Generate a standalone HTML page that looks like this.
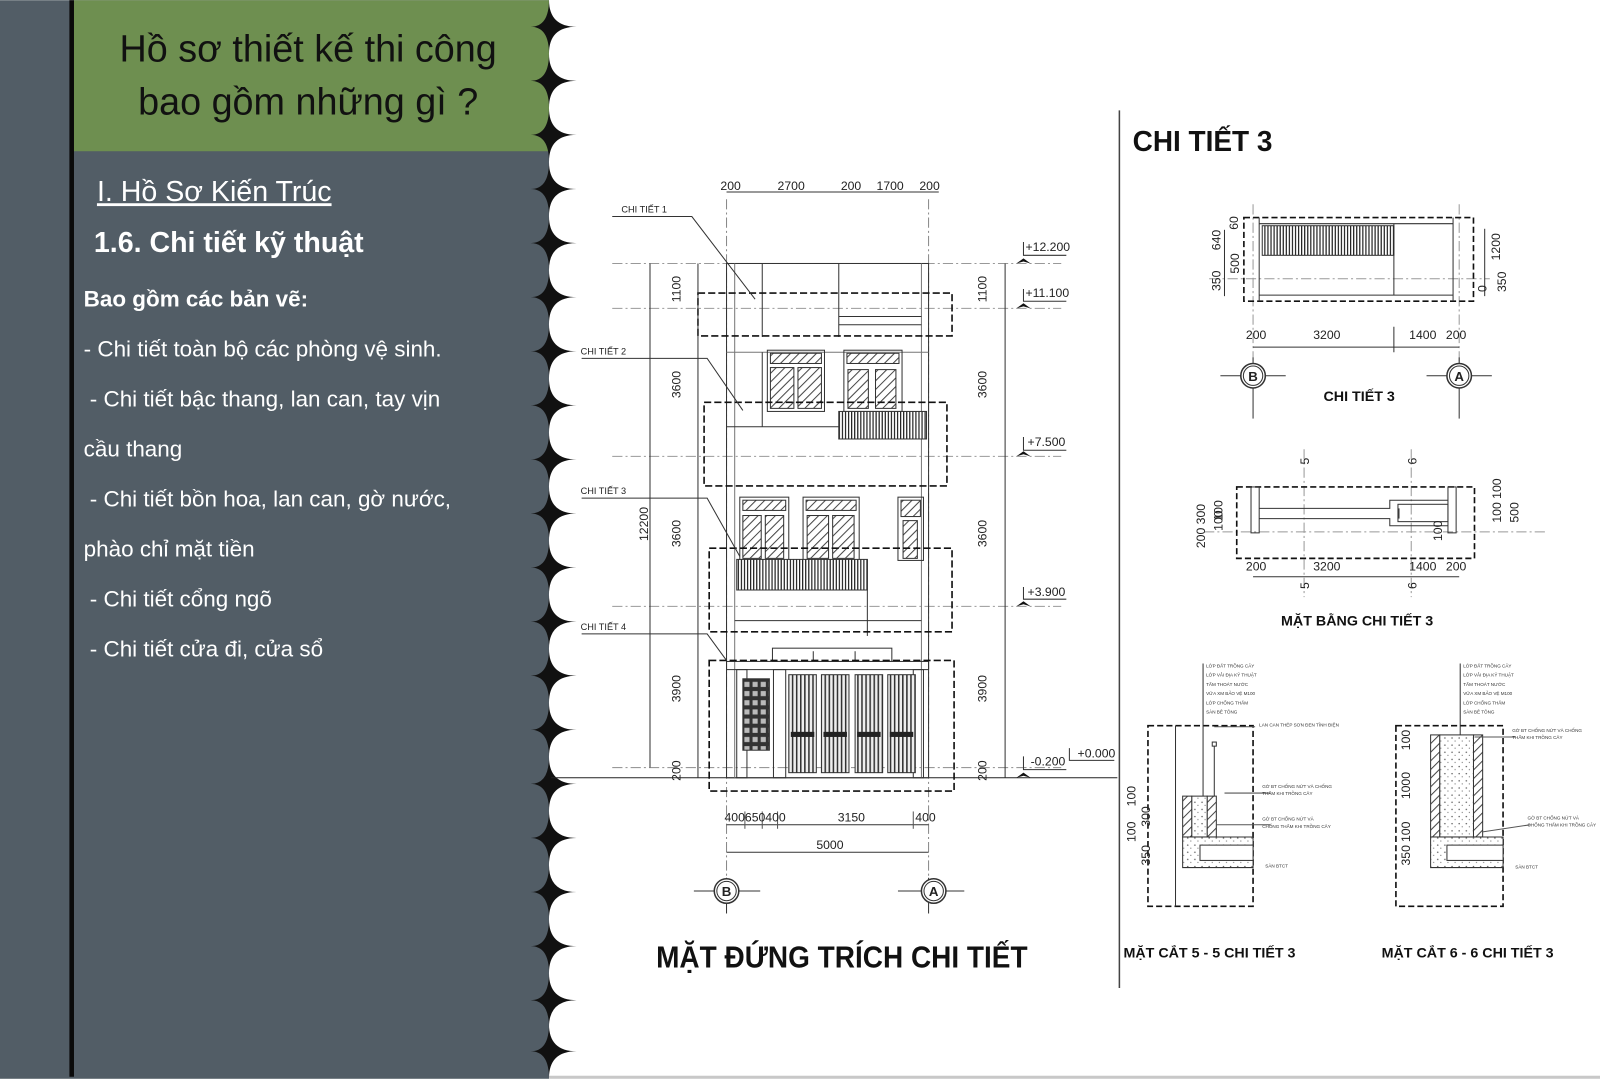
<!DOCTYPE html>
<html><head><meta charset="utf-8"><style>
html,body{margin:0;padding:0;background:#fff;}
svg{display:block;}
.t{font-family:"Liberation Sans",sans-serif;}
.n{font-family:"Liberation Sans Narrow","Liberation Sans",sans-serif;}
</style></head><body>
<svg width="1600" height="1079" viewBox="0 0 1568 1057" xmlns="http://www.w3.org/2000/svg">
<defs>
<pattern id="vl" width="3" height="10" patternUnits="userSpaceOnUse"><rect width="3" height="10" fill="#fff"/><rect width="1.2" height="10" fill="#222"/></pattern>
<pattern id="vl2" width="4" height="10" patternUnits="userSpaceOnUse"><rect width="4" height="10" fill="#eee"/><rect width="1.5" height="10" fill="#333"/></pattern>
<pattern id="hat" width="6" height="6" patternUnits="userSpaceOnUse" patternTransform="rotate(45)"><rect width="6" height="6" fill="#fff"/><rect width="1" height="6" fill="#444"/></pattern>
<pattern id="grl" width="8" height="9" patternUnits="userSpaceOnUse"><rect width="8" height="9" fill="#333"/><rect x="1.5" y="2" width="5" height="5" fill="#bbb"/></pattern>
<pattern id="dots" width="7" height="7" patternUnits="userSpaceOnUse"><rect width="7" height="7" fill="#fff"/><circle cx="2" cy="2" r=".7" fill="#555"/><circle cx="5" cy="5" r=".6" fill="#777"/></pattern>
<path id="star" d="M520,0 Q538,0 538,-26.5 Q538,0 565,0 Q538,0 538,26.5 Q538,0 520,0Z" fill="#111"/>
</defs>

<rect x="0" y="0" width="538" height="1057" fill="#525d66"/>
<rect x="72" y="0" width="466" height="148" fill="#6e8f50"/>
<rect x="68" y="0" width="4.5" height="1055" fill="#0a0a0a"/>
<rect x="538" y="1054" width="1030" height="3" fill="#c8c8c8"/>
<g>
<use href="#star" y="26"/><use href="#star" y="79"/><use href="#star" y="132"/><use href="#star" y="185"/><use href="#star" y="238"/><use href="#star" y="291"/><use href="#star" y="344"/><use href="#star" y="397"/><use href="#star" y="450"/><use href="#star" y="503"/><use href="#star" y="556"/><use href="#star" y="609"/><use href="#star" y="662"/><use href="#star" y="715"/><use href="#star" y="768"/><use href="#star" y="821"/><use href="#star" y="874"/><use href="#star" y="927"/><use href="#star" y="980"/><use href="#star" y="1030"/>
</g>

<g class="t">
<text x="302" y="60" font-size="37" text-anchor="middle" fill="#111">Hồ sơ thiết kế thi công</text>
<text x="302" y="112" font-size="37" text-anchor="middle" fill="#111">bao gồm những gì ?</text>
<text x="95" y="197" font-size="28" fill="#fff" text-decoration="underline">I. Hồ Sơ Kiến Trúc</text>
<text x="92" y="247" font-size="28" font-weight="bold" fill="#fff">1.6.  Chi tiết kỹ thuật</text>
<text x="82" y="300" font-size="22" font-weight="bold" fill="#fff">Bao gồm các bản vẽ:</text>
<g font-size="22" fill="#fff">
<text x="82" y="349">- Chi tiết toàn bộ các phòng vệ sinh.</text>
<text x="88" y="398">- Chi tiết bậc thang, lan can, tay vịn</text>
<text x="82" y="447">cầu thang</text>
<text x="88" y="496">- Chi tiết bồn hoa, lan can, gờ nước,</text>
<text x="82" y="545">phào chỉ mặt tiền</text>
<text x="88" y="594">- Chi tiết cổng ngõ</text>
<text x="88" y="643">- Chi tiết cửa đi, cửa sổ</text>
</g>
</g>

<g stroke="#333" fill="none" stroke-width="1">
<g stroke="#888" stroke-dasharray="10,3,2,3">
<line x1="712" y1="195" x2="712" y2="860"/><line x1="910" y1="195" x2="910" y2="860"/>
</g>
<g stroke="#999" stroke-dasharray="10,3,2,3">
<line x1="600" y1="258" x2="1040" y2="258"/><line x1="600" y1="302" x2="1040" y2="302"/>
<line x1="600" y1="447" x2="1040" y2="447"/><line x1="600" y1="594" x2="1040" y2="594"/>
<line x1="600" y1="752" x2="1040" y2="752"/>
</g>
<line x1="540" y1="762" x2="1095" y2="762" stroke="#222"/>
<rect x="712" y="258" width="198" height="504"/>
<line x1="720" y1="258" x2="720" y2="762" stroke="#777"/><line x1="903" y1="258" x2="903" y2="762" stroke="#777"/>
<line x1="747" y1="258" x2="747" y2="330"/><line x1="822" y1="258" x2="822" y2="330"/>
<line x1="822" y1="310" x2="903" y2="310"/><line x1="822" y1="318" x2="903" y2="318"/>
<line x1="712" y1="345" x2="910" y2="345" stroke="#777"/>
<line x1="747" y1="345" x2="747" y2="418"/><line x1="712" y1="418" x2="822" y2="418"/>
<rect x="752" y="343" width="56" height="60"/><rect x="755" y="346" width="50" height="10" fill="url(#hat)"/>
<rect x="755" y="360" width="23" height="40" fill="url(#hat)"/><rect x="782" y="360" width="23" height="40" fill="url(#hat)"/>
<rect x="827" y="343" width="57" height="60"/><rect x="830" y="346" width="51" height="10" fill="url(#hat)"/>
<rect x="831" y="362" width="20" height="38" fill="url(#hat)"/><rect x="858" y="362" width="20" height="38" fill="url(#hat)"/>
<rect x="822" y="403" width="86" height="27" fill="url(#vl)"/>
<rect x="725" y="487" width="48" height="62"/><rect x="728" y="490" width="42" height="10" fill="url(#hat)"/>
<rect x="728" y="505" width="18" height="42" fill="url(#hat)"/><rect x="750" y="505" width="18" height="42" fill="url(#hat)"/>
<rect x="787" y="487" width="55" height="62"/><rect x="790" y="490" width="49" height="10" fill="url(#hat)"/>
<rect x="791" y="505" width="21" height="42" fill="url(#hat)"/><rect x="816" y="505" width="21" height="42" fill="url(#hat)"/>
<rect x="880" y="487" width="25" height="62"/><rect x="883" y="490" width="19" height="16" fill="url(#hat)"/><rect x="885" y="510" width="14" height="37" fill="url(#hat)"/>
<rect x="722" y="548" width="128" height="30" fill="url(#vl)"/>
<line x1="722" y1="578" x2="850" y2="578"/><line x1="850" y1="548" x2="850" y2="623"/>
<line x1="720" y1="608" x2="903" y2="608"/>
<rect x="757" y="635" width="117" height="13"/><line x1="797" y1="638" x2="797" y2="648"/><line x1="838" y1="638" x2="838" y2="648"/>
<rect x="712" y="648" width="198" height="8"/>
<rect x="722" y="656" width="10" height="106"/><rect x="758" y="656" width="12" height="106"/><rect x="895" y="656" width="10" height="106"/>
<rect x="728" y="665" width="26" height="70" fill="url(#grl)"/>
<rect x="773" y="661" width="27" height="96" fill="url(#vl2)"/><rect x="805" y="661" width="27" height="96" fill="url(#vl2)"/>
<rect x="838" y="661" width="27" height="96" fill="url(#vl2)"/><rect x="870" y="661" width="27" height="96" fill="url(#vl2)"/>
<g fill="#222" stroke="none"><rect x="775" y="717" width="23" height="5"/><rect x="807" y="717" width="23" height="5"/><rect x="840" y="717" width="23" height="5"/><rect x="872" y="717" width="23" height="5"/></g>
<g stroke="#111" stroke-width="1.6" stroke-dasharray="7,3">
<rect x="684" y="287" width="249" height="42"/><rect x="690" y="394" width="238" height="82"/>
<rect x="695" y="537" width="238" height="82"/><rect x="695" y="647" width="240" height="128"/>
</g>
<polyline points="600,212 678,212 740,293"/><polyline points="570,351 693,351 728,402"/>
<polyline points="570,488 693,488 725,545"/><polyline points="570,621 693,621 712,647"/>
<line x1="712" y1="188" x2="920" y2="188"/>
<line x1="637" y1="258" x2="637" y2="752"/><line x1="684" y1="258" x2="684" y2="762"/>
<line x1="985" y1="258" x2="985" y2="762"/>
<line x1="712" y1="808" x2="910" y2="808"/><line x1="712" y1="835" x2="910" y2="835"/>
<g stroke="#555"><line x1="730" y1="795" x2="730" y2="812"/><line x1="747" y1="795" x2="747" y2="812"/><line x1="762" y1="795" x2="762" y2="812"/><line x1="895" y1="795" x2="895" y2="812"/></g>
<line x1="712" y1="860" x2="712" y2="895"/><line x1="910" y1="860" x2="910" y2="895"/>
<line x1="680" y1="873" x2="745" y2="873"/><line x1="880" y1="873" x2="945" y2="873"/>
<circle cx="712" cy="873" r="12" fill="#fff" stroke-width="1.5"/><circle cx="712" cy="873" r="9.5"/>
<circle cx="915" cy="873" r="12" fill="#fff" stroke-width="1.5"/><circle cx="915" cy="873" r="9.5"/>
<g stroke="#333">
<polyline points="1003,237 1003,250 1045,250"/><polyline points="1003,283 1003,295 1045,295"/>
<polyline points="1003,428 1003,441 1045,441"/><polyline points="1003,575 1003,587 1045,587"/>
<polyline points="1003,741 1003,754 1045,754"/><polyline points="1048,733 1048,745 1092,745"/>
</g>
</g>
<g fill="#111">
<path d="M996,258 l7,-5 7,5 -7,-2z"/><path d="M996,302 l7,-5 7,5 -7,-2z"/><path d="M996,447 l7,-5 7,5 -7,-2z"/><path d="M996,594 l7,-5 7,5 -7,-2z"/><path d="M996,762 l7,-5 7,5 -7,-2z"/>
</g>
<g class="t" font-size="12" fill="#222">
<text x="706" y="186">200</text><text x="762" y="186">2700</text><text x="824" y="186">200</text><text x="859" y="186">1700</text><text x="901" y="186">200</text>
<text x="1005" y="246">+12.200</text><text x="1005" y="291">+11.100</text><text x="1007" y="437">+7.500</text><text x="1007" y="584">+3.900</text><text x="1010" y="750">-0.200</text><text x="1056" y="742">+0.000</text>
<text x="710" y="805">400650400</text><text x="821" y="805">3150</text><text x="897" y="805">400</text><text x="800" y="832">5000</text>
<g transform="rotate(-90)">
<text x="-296" y="667">1100</text><text x="-390" y="667">3600</text><text x="-536" y="667">3600</text><text x="-688" y="667">3900</text><text x="-765" y="667">200</text>
<text x="-530" y="635">12200</text>
<text x="-296" y="967">1100</text><text x="-390" y="967">3600</text><text x="-536" y="967">3600</text><text x="-688" y="967">3900</text><text x="-765" y="967">200</text>
</g>
<text x="712" y="878" text-anchor="middle" font-weight="bold" font-size="13">B</text><text x="915" y="878" text-anchor="middle" font-weight="bold" font-size="13">A</text>
</g>
<g class="n" font-size="9" fill="#222">
<text x="609" y="208">CHI TIẾT 1</text><text x="569" y="347">CHI TIẾT 2</text><text x="569" y="484">CHI TIẾT 3</text><text x="569" y="617">CHI TIẾT 4</text>
</g>
<text class="n" x="825" y="948" font-size="30" font-weight="bold" text-anchor="middle" textLength="364" lengthAdjust="spacingAndGlyphs" fill="#111">MẶT ĐỨNG TRÍCH CHI TIẾT</text>

<line x1="1097" y1="108" x2="1097" y2="968" stroke="#444" stroke-width="1.5"/>
<text class="n" x="1110" y="148" font-size="28" font-weight="bold" textLength="137" lengthAdjust="spacingAndGlyphs" fill="#111">CHI TIẾT 3</text>
<g stroke="#333" fill="none">
<g stroke="#999" stroke-dasharray="10,3,2,3"><line x1="1228" y1="200" x2="1228" y2="380"/><line x1="1430" y1="200" x2="1430" y2="380"/><line x1="1185" y1="273" x2="1460" y2="273"/>
<line x1="1278" y1="440" x2="1278" y2="585"/><line x1="1383" y1="440" x2="1383" y2="585"/><line x1="1180" y1="521" x2="1515" y2="521"/></g>
<rect x="1219" y="213" width="225" height="82" stroke="#111" stroke-width="1.6" stroke-dasharray="6,3"/>
<line x1="1234" y1="213" x2="1234" y2="295"/><line x1="1424" y1="213" x2="1424" y2="295"/>
<line x1="1234" y1="219" x2="1424" y2="219"/><line x1="1234" y1="289" x2="1424" y2="289"/><line x1="1366" y1="219" x2="1366" y2="289"/>
<rect x="1237" y="221" width="129" height="29" fill="url(#vl)"/>
<line x1="1200" y1="225" x2="1200" y2="290"/><line x1="1455" y1="224" x2="1455" y2="290"/>
<line x1="1228" y1="340" x2="1430" y2="340"/><line x1="1366" y1="320" x2="1366" y2="345"/>
<line x1="1228" y1="350" x2="1228" y2="410"/><line x1="1430" y1="350" x2="1430" y2="410"/>
<line x1="1196" y1="368" x2="1260" y2="368"/><line x1="1398" y1="368" x2="1462" y2="368"/>
<circle cx="1228" cy="368" r="12" fill="#fff" stroke-width="1.5"/><circle cx="1228" cy="368" r="9.5"/>
<circle cx="1430" cy="368" r="12" fill="#fff" stroke-width="1.5"/><circle cx="1430" cy="368" r="9.5"/>
<rect x="1212" y="477" width="233" height="70" stroke="#111" stroke-width="1.6" stroke-dasharray="6,3"/>
<rect x="1226" y="477" width="8" height="45"/><rect x="1419" y="477" width="8" height="45"/>
<polyline points="1234,498 1362,498 1362,490 1419,490"/><polyline points="1234,508 1362,508 1362,515 1419,515"/>
<polyline points="1371,498 1371,508"/><rect x="1370" y="494" width="49" height="17"/>
<line x1="1228" y1="565" x2="1430" y2="565"/>
<rect x="1125" y="711" width="103" height="177" stroke="#111" stroke-width="1.6" stroke-dasharray="6,3"/>
<line x1="1152" y1="711" x2="1152" y2="888"/>
<line x1="1179" y1="650" x2="1179" y2="820"/>
<rect x="1188" y="727" width="4" height="4"/><line x1="1190" y1="731" x2="1190" y2="780"/>
<rect x="1159" y="780" width="9" height="40" fill="url(#hat)"/><rect x="1183" y="780" width="9" height="40" fill="url(#hat)"/>
<rect x="1168" y="780" width="15" height="40" fill="url(#dots)"/>
<path d="M1159,820 H1228 V850 H1159Z" fill="url(#dots)"/><rect x="1176" y="828" width="52" height="15" fill="#fff"/>
<rect x="1368" y="711" width="105" height="177" stroke="#111" stroke-width="1.6" stroke-dasharray="6,3"/>
<line x1="1431" y1="650" x2="1431" y2="820"/>
<rect x="1402" y="720" width="9" height="100" fill="url(#hat)"/><rect x="1444" y="720" width="9" height="100" fill="url(#hat)"/>
<rect x="1411" y="720" width="33" height="100" fill="url(#dots)"/>
<path d="M1402,820 H1473 V850 H1402Z" fill="url(#dots)"/><rect x="1418" y="828" width="55" height="15" fill="#fff"/>
<g stroke="#555"><line x1="1190" y1="712" x2="1230" y2="712"/><line x1="1200" y1="777" x2="1245" y2="777"/><line x1="1192" y1="808" x2="1245" y2="808"/>
<line x1="1445" y1="722" x2="1485" y2="722"/><line x1="1453" y1="815" x2="1500" y2="808"/></g>
</g>
<g class="t" font-size="12" fill="#222">
<text x="1221" y="332">200</text><text x="1287" y="332">3200</text><text x="1381" y="332">1400</text><text x="1417" y="332">200</text>
<text x="1221" y="559">200</text><text x="1287" y="559">3200</text><text x="1381" y="559">1400</text><text x="1417" y="559">200</text>
<text x="1228" y="373" text-anchor="middle" font-weight="bold" font-size="13">B</text><text x="1430" y="373" text-anchor="middle" font-weight="bold" font-size="13">A</text>
<g transform="rotate(-90)">
<text x="-225" y="1213">60</text><text x="-245" y="1196">640</text><text x="-268" y="1214">500</text><text x="-285" y="1196">350</text>
<text x="-255" y="1470">1200</text><text x="-286" y="1457">0</text><text x="-286" y="1476">350</text>
<text x="-510" y="1198">100</text><text x="-537" y="1181">200 300</text><text x="-520" y="1198">100</text>
<text x="-512" y="1471">100 100</text><text x="-512" y="1488">500</text><text x="-530" y="1413">100</text>
<text x="-455" y="1283">5</text><text x="-455" y="1388">6</text><text x="-577" y="1283">5</text><text x="-577" y="1388">6</text>
<text x="-790" y="1113">100</text><text x="-810" y="1127">300</text><text x="-825" y="1113">100</text><text x="-848" y="1127">350</text>
<text x="-735" y="1382">100</text><text x="-783" y="1382">1000</text><text x="-825" y="1382">100</text><text x="-848" y="1382">350</text>
</g>
</g>
<g class="n" font-size="14" font-weight="bold" fill="#111">
<text x="1332" y="393" text-anchor="middle">CHI TIẾT 3</text>
<text x="1330" y="613" text-anchor="middle">MẶT BẰNG CHI TIẾT 3</text>
<text x="1101" y="938">MẶT CẮT 5 - 5 CHI TIẾT 3</text>
<text x="1354" y="938">MẶT CẮT 6 - 6 CHI TIẾT 3</text>
</g>
<g class="n" font-size="4.5" fill="#333">
<text x="1182" y="654">LỚP ĐẤT TRỒNG CÂY</text><text x="1182" y="663">LỚP VẢI ĐỊA KỸ THUẬT</text><text x="1182" y="672">TẤM THOÁT NƯỚC</text><text x="1182" y="681">VỮA XM BẢO VỆ M100</text><text x="1182" y="690">LỚP CHỐNG THẤM</text><text x="1182" y="699">SÀN BÊ TÔNG</text>
<text x="1234" y="712">LAN CAN THÉP SƠN ĐEN TĨNH ĐIỆN</text><text x="1237" y="772">GỜ BT CHỐNG NỨT VÀ CHỐNG</text><text x="1237" y="779">THẤM KHI TRỒNG CÂY</text>
<text x="1237" y="804">GỜ BT CHỐNG NỨT VÀ</text><text x="1237" y="811">CHỐNG THẤM KHI TRỒNG CÂY</text><text x="1240" y="850">SÀN BTCT</text>
<text x="1434" y="654">LỚP ĐẤT TRỒNG CÂY</text><text x="1434" y="663">LỚP VẢI ĐỊA KỸ THUẬT</text><text x="1434" y="672">TẤM THOÁT NƯỚC</text><text x="1434" y="681">VỮA XM BẢO VỆ M100</text><text x="1434" y="690">LỚP CHỐNG THẤM</text><text x="1434" y="699">SÀN BÊ TÔNG</text>
<text x="1482" y="717">GỜ BT CHỐNG NỨT VÀ CHỐNG</text><text x="1482" y="724">THẤM KHI TRỒNG CÂY</text>
<text x="1497" y="803">GỜ BT CHỐNG NỨT VÀ</text><text x="1497" y="810">CHỐNG THẤM KHI TRỒNG CÂY</text><text x="1485" y="851">SÀN BTCT</text>
</g>
</svg>
</body></html>
